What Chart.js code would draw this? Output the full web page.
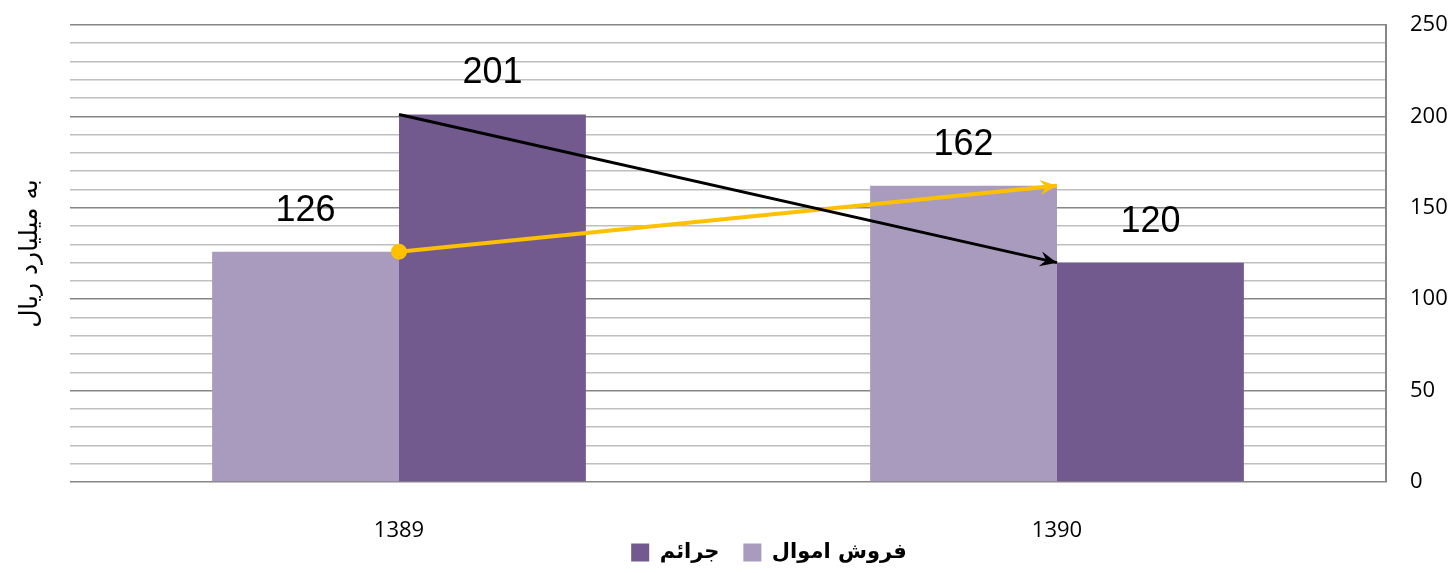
<!DOCTYPE html>
<html>
<head>
<meta charset="utf-8">
<script src="https://cdn.jsdelivr.net/npm/chart.js@4"></script>
<style>
  html, body { margin: 0; padding: 0; background: #fff; }
  #wrap { width: 1454px; height: 573px; }
</style>
</head>
<body>
<div id="wrap"><canvas id="chart"></canvas></div>
<script>
// DATA //
var years = ["1389", "1390"];
var salesValues = [126, 162];   // فروش اموال
var crimeValues = [201, 120];   // جرائم
var seriesNames = ["فروش اموال", "جرائم"];
var axisTitle = "به میلیارد ریال";

var lightPurple = "#A99BBD";
var darkPurple = "#725A8E";

// value labels above the bars //
var barLabels = {
    id: "barLabels",
    afterDatasetsDraw: function (chart) {
        var ctx = chart.ctx;
        ctx.save();
        ctx.font = "36px 'Liberation Sans', Arial, sans-serif";
        ctx.fillStyle = "#000";
        ctx.textAlign = "center";
        ctx.textBaseline = "middle";
        chart.data.datasets.forEach(function (ds, i) {
            if (ds.type === "line") return;
            chart.getDatasetMeta(i).data.forEach(function (bar, j) {
                ctx.fillText(ds.data[j], bar.x, bar.y - 41);
            });
        });
        ctx.restore();
    }
};

// arrow heads at the end of the trend lines //
var arrowHeads = {
    id: "arrowHeads",
    afterDatasetsDraw: function (chart) {
        var ctx = chart.ctx;
        chart.data.datasets.forEach(function (ds, i) {
            if (ds.type !== "line") return;
            var pts = chart.getDatasetMeta(i).data;
            var a = pts[pts.length - 2], b = pts[pts.length - 1];
            var ang = Math.atan2(b.y - a.y, b.x - a.x);
            var len = 17, half = 7.5, notch = 11;
            ctx.save();
            ctx.translate(b.x, b.y);
            ctx.rotate(ang);
            ctx.fillStyle = ds.borderColor;
            ctx.beginPath();
            ctx.moveTo(0, 0);
            ctx.lineTo(-len, -half);
            ctx.lineTo(-notch, 0);
            ctx.lineTo(-len, half);
            ctx.closePath();
            ctx.fill();
            ctx.restore();
        });
    }
};

// move the legend row a bit to the right //
var legendShift = {
    id: "legendShift",
    afterLayout: function (chart) {
        chart.legend.left += 84;
    }
};

var ctx = document.getElementById("chart");
var chart = new Chart(ctx, {
    type: "bar",
    data: {
        labels: years,
        datasets: [{
            label: seriesNames[0],
            data: salesValues,
            backgroundColor: lightPurple,
            order: 1
        }, {
            label: seriesNames[1],
            data: crimeValues,
            backgroundColor: darkPurple,
            order: 1
        }, {
            type: "line",
            label: "trend1",
            data: crimeValues,
            borderColor: "#000000",
            borderWidth: 3,
            pointRadius: 0,
            fill: false,
            order: 0
        }, {
            type: "line",
            label: "trend2",
            data: salesValues,
            borderColor: "#FFC000",
            backgroundColor: "#FFC000",
            borderWidth: 4,
            pointRadius: [8, 0],
            pointBorderWidth: 0,
            fill: false,
            order: 0
        }]
    },
    options: {
        responsive: true,
        maintainAspectRatio: false,
        animation: false,
        layout: { padding: 0 },
        datasets: {
            bar: { barPercentage: 1, categoryPercentage: 0.568 }
        },
        plugins: {
            tooltip: { enabled: false },
            legend: {
                position: "bottom",
                reverse: true,
                labels: {
                    boxWidth: 18,
                    boxHeight: 18,
                    padding: 2,
                    color: "#000",
                    font: { family: "'DejaVu Sans', sans-serif", size: 21, weight: "bold" },
                    filter: function (item) { return item.text.indexOf("trend") !== 0; },
                    // extra space after the left-hand item
                    generateLabels: function (chart) {
                        var items = Chart.defaults.plugins.legend.labels.generateLabels(chart);
                        items.forEach(function (it) {
                            if (it.datasetIndex === 1) it.text = it.text + "   ";
                        });
                        return items;
                    }
                }
            }
        },
        scales: {
            x: {
                grid: { display: false },
                border: { display: false },
                ticks: {
                    color: "#000",
                    padding: 28,
                    font: { family: "'Open Sans', sans-serif", size: 22 }
                },
                afterFit: function (s) { s.height = 58; }
            },
            y: {
                position: "right",
                min: 0,
                max: 250,
                grid: {
                    drawTicks: false,
                    lineWidth: 1.6,
                    color: function (c) { return c.tick.value % 50 === 0 ? "#868686" : "#BFBFBF"; }
                },
                border: { display: true, color: "#868686", width: 2 },
                ticks: {
                    stepSize: 10,
                    autoSkip: false,
                    maxTicksLimit: 100,
                    padding: 24,
                    color: "#000",
                    font: { family: "'Open Sans', sans-serif", size: 22 },
                    callback: function (v) { return v % 50 === 0 ? v : ""; }
                },
                afterFit: function (s) {
                    s.width = 68;
                    s.paddingTop = 25;
                    s.paddingBottom = 0;
                }
            },
            yTitle: {
                position: "left",
                grid: { display: false },
                border: { display: false },
                ticks: { display: false },
                title: {
                    display: true,
                    text: axisTitle,
                    color: "#000",
                    font: { family: "'DejaVu Sans', sans-serif", size: 25 },
                    padding: { top: 15, bottom: 0 }
                },
                afterFit: function (s) { s.width = 70; }
            }
        }
    },
    plugins: [barLabels, arrowHeads, legendShift]
});
</script>
</body>
</html>
